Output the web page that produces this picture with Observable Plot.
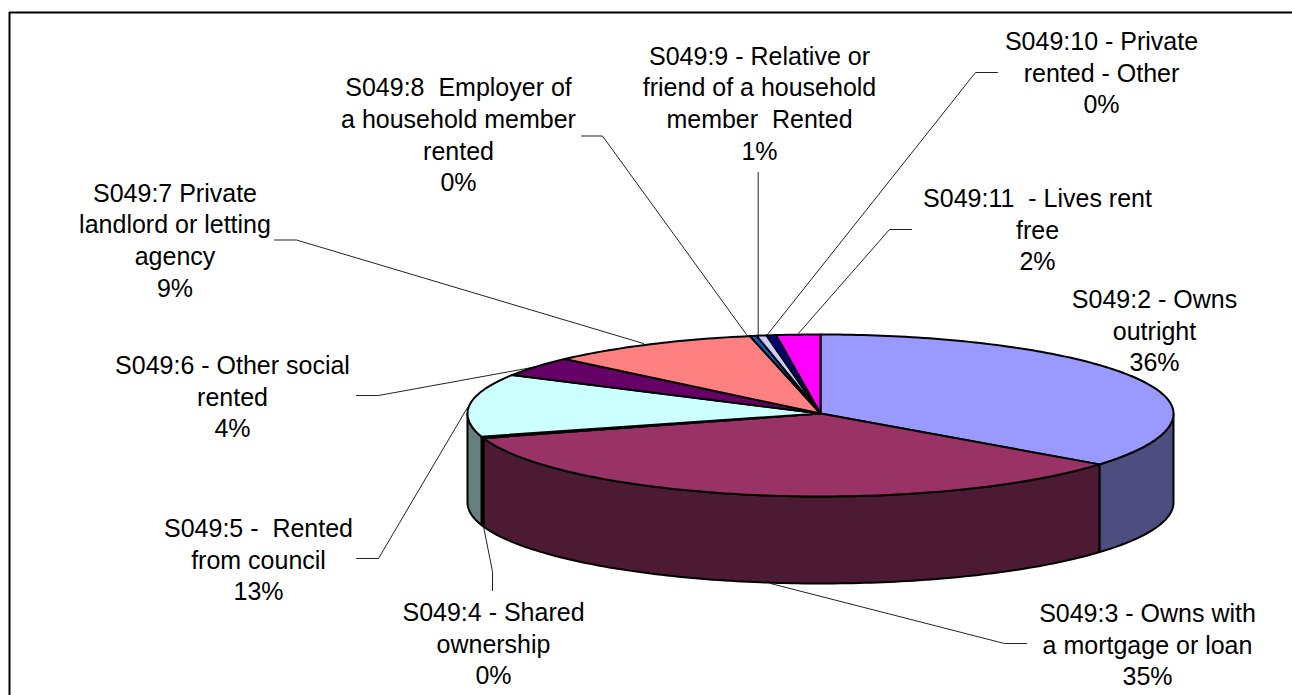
<!DOCTYPE html>
<html>
<head>
<meta charset="utf-8">
<script src="https://cdn.jsdelivr.net/npm/d3@7"></script>
<script src="https://cdn.jsdelivr.net/npm/@observablehq/plot@0.6"></script>
<style>html,body{margin:0;padding:0;background:#fff}svg{display:block}</style>
</head>
<body>
<script>
// Categories, clockwise from 12 o'clock
const categories = ["S049:2","S049:3","S049:4","S049:5","S049:6","S049:7","S049:8","S049:9","S049:10","S049:11"];
// Estimated shares of the whole pie, percent (read from slice boundaries)
const shares = [35.5, 34.7, 0.3, 12.6, 4.0, 9.7, 0.3, 0.46, 0.44, 2.0];
const topColors  = ["#9999FF","#993366","#FFFFCC","#CCFFFF","#660066","#FF8080","#0066CC","#CCCCFF","#000080","#FF00FF"];
const wallColors = ["#4D4D80","#4D1A33","#808066","#668080","#330033","#804040","#003366","#666680","#000040","#800080"];

const labelTexts = [
  "S049:2 - Owns\noutright\n36%",
  "S049:3 - Owns with\na mortgage or loan\n35%",
  "S049:4 - Shared\nownership\n0%",
  "S049:5 -  Rented\nfrom council\n13%",
  "S049:6 - Other social\nrented\n4%",
  "S049:7 Private\nlandlord or letting\nagency\n9%",
  "S049:8  Employer of\na household member\nrented\n0%",
  "S049:9 - Relative or\nfriend of a household\nmember  Rented\n1%",
  "S049:10 - Private\nrented - Other\n0%",
  "S049:11  - Lives rent\nfree\n2%"
];
const labelX = [1154, 1147, 493, 258, 232, 174.5, 458, 759, 1101, 1037];
const labelY = [329, 643, 642, 558, 395, 238.5, 133, 101.5, 71, 228];

const leaders = [
  [[1026,643],[1004,643],[770,583]],
  [[492,590],[492,571],[483,526]],
  [[356,558],[378,558],[467,407]],
  [[356,395],[378,395],[537,366]],
  [[274,239.5],[296,239.5],[643,343]],
  [[581,135.5],[602,135.5],[746,334]],
  [[757.7,172],[757.7,334]],
  [[997,72],[975,72],[767,334]],
  [[911,229],[889,229],[797,334]]
];

// Pie shape
const cx = 820, cy = 413, rx = 353, ryBack = 79, ryFront = 83, depth = 89, ryBottom = 81;
const rad = Math.PI / 180;
const rim = (deg, bottom) => {
  const c = -Math.cos(deg * rad);
  return {
    x: cx + rx * Math.sin(deg * rad),
    y: bottom ? cy + depth + ryBottom * c : cy + (c < 0 ? ryBack : ryFront) * c
  };
};
const arc = (a0, a1, bottom) => {
  const n = Math.max(1, Math.ceil(Math.abs(a1 - a0)));
  return d3.range(n + 1).map(i => rim(a0 + (a1 - a0) * i / n, bottom));
};

const total = d3.sum(shares);
let acc = 0;
const slices = categories.map((name, i) => {
  const a0 = acc / total * 360; acc += shares[i];
  return {name, a0, a1: acc / total * 360, top: topColors[i], wall: wallColors[i]};
});

const topPts = slices.flatMap(s =>
  [{x: cx, y: cy}, ...arc(s.a0, s.a1, false)].map(p => ({...p, id: s.name, color: s.top})));
const wallPts = slices.flatMap(s => {
  const a0 = Math.max(s.a0, 90), a1 = Math.min(s.a1, 270);
  if (a1 <= a0) return [];
  return [...arc(a0, a1, false), ...arc(a1, a0, true)].map(p => ({...p, id: s.name, color: s.wall}));
});
const labels = labelTexts.map((text, i) => ({text, x: labelX[i], y: labelY[i]}));
const leaderPts = leaders.flatMap((l, i) => l.map(([x, y]) => ({x, y, id: i})));

const chart = Plot.plot({
  width: 1292, height: 695,
  marginTop: 0, marginRight: 0, marginBottom: 0, marginLeft: 0,
  x: {domain: [0, 1292], range: [0, 1292], axis: null},
  y: {domain: [0, 695], range: [0, 695], axis: null},
  color: {type: "identity"},
  style: {fontFamily: "'Liberation Sans', Arial, sans-serif", background: "#fff", color: "#000"},
  marks: [
    Plot.ruleY([12], {x1: 9, x2: 1292, stroke: "#000", strokeWidth: 2}),
    Plot.ruleX([9], {y1: 12, y2: 695, stroke: "#000", strokeWidth: 2}),
    Plot.line(leaderPts, {x: "x", y: "y", z: "id", stroke: "#222", strokeWidth: 1, curve: "linear"}),
    Plot.line(wallPts, {x: "x", y: "y", z: "id", fill: "color", stroke: "#000", strokeWidth: 2, curve: "linear-closed"}),
    Plot.line(topPts, {x: "x", y: "y", z: "id", fill: "color", stroke: "#000", strokeWidth: 2, curve: "linear-closed"}),
    Plot.text(labels, {x: "x", y: "y", text: "text", fontSize: 25, lineHeight: 1.27, fill: "#000", textAnchor: "middle"})
  ]
});
document.body.appendChild(chart);
</script>
</body>
</html>
